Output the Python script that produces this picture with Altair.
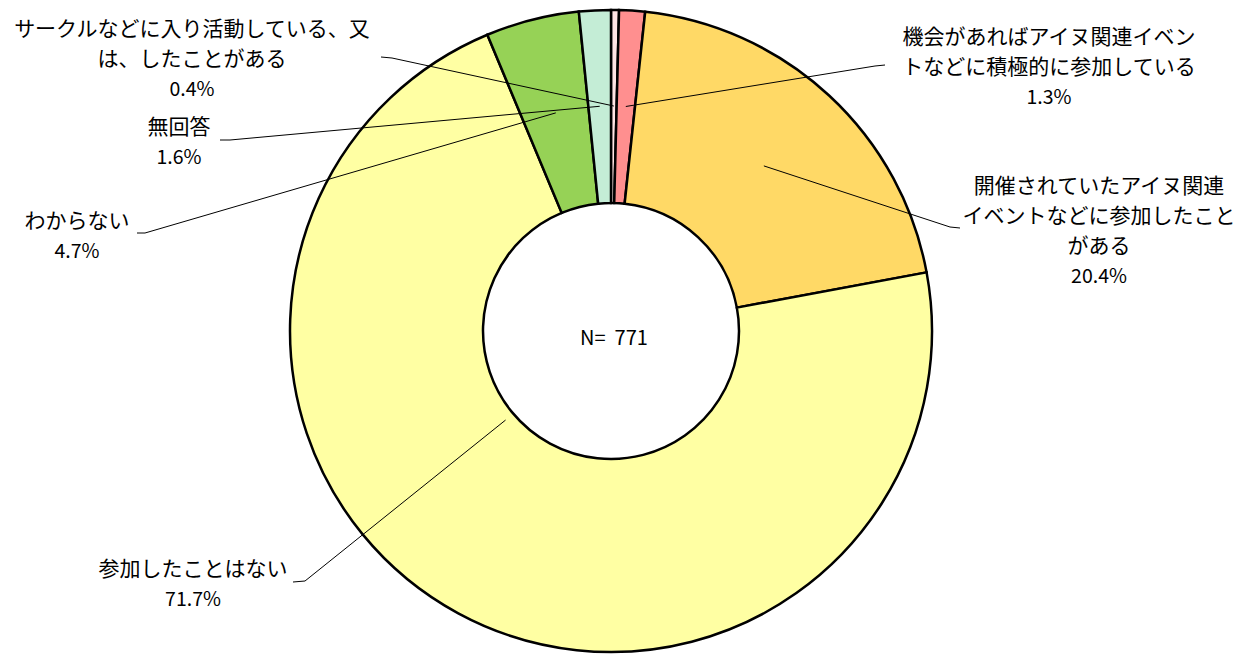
import math
import altair as alt
import pandas as pd

# ---------------- data ----------------
categories = [
    "サークルなどに入り活動している、又\nは、したことがある",
    "機会があればアイヌ関連イベン\nトなどに積極的に参加している",
    "開催されていたアイヌ関連\nイベントなどに参加したこと\nがある",
    "参加したことはない",
    "わからない",
    "無回答",
]
values = [0.4, 1.3, 20.4, 71.7, 4.7, 1.6]
pct_labels = ["0.4%", "1.3%", "20.4%", "71.7%", "4.7%", "1.6%"]
center_label = "N=\u00a0\u00a0771"

# ---------------- styles / layout ----------------
colors = ["#FFE4E4", "#FF8F8F", "#FFD966", "#FFFFA3", "#96D256", "#C4EDD6"]
W, H = 1246, 655
CX, CY = 611, 331
R_OUT, R_IN = 321, 128

label_x = [192, 1049, 1099, 193, 77, 179]
label_y = [30, 38, 187, 570, 222, 128]
line_h = 30
# leader line: start point near label, stub end
lead_start = [(381, 57), (885, 65), (960, 228), (293, 582), (137, 233), (220, 140)]
lead_stub = [(392, 58), (875, 66), (950, 227), (305, 581), (145, 233), (230, 140)]
target_r = [225, 225, 225, 138, 225, 225]
target_dang = [0, 0, 0, 21.4, 0, 0]

total = sum(values)

# arcs
arc_df = pd.DataFrame({
    "cat": categories,
    "value": values,
    "idx": list(range(len(values))),
})

# labels
txt_rows, pct_rows, lead_rows = [], [], []
cum = 0.0
for i, (c, v, p) in enumerate(zip(categories, values, pct_labels)):
    mid = (cum + v / 2) / total * 360 + target_dang[i]
    cum += v
    n_lines = c.count("\n") + 1
    txt_rows.append({"t": c, "lx": label_x[i], "ly": label_y[i]})
    pct_rows.append({"t": p, "lx": label_x[i], "ly": label_y[i] + line_h * n_lines})
    tx = CX + target_r[i] * math.sin(math.radians(mid))
    ty = CY - target_r[i] * math.cos(math.radians(mid))
    pts = [lead_start[i], lead_stub[i], (tx, ty)]
    for k, (px, py) in enumerate(pts):
        lead_rows.append({"id": i, "k": k, "lx": px, "ly": py})

txt_df = pd.DataFrame(txt_rows)
pct_df = pd.DataFrame(pct_rows)
lead_df = pd.DataFrame(lead_rows)
ctr_df = pd.DataFrame([{"t": center_label, "lx": CX + 3, "ly": CY + 8}])

xs = alt.Scale(domain=[0, W], range=[0, W])
ys = alt.Scale(domain=[0, H], range=[0, H])
FONT = "Noto Sans CJK JP"

arcs = alt.Chart(arc_df).mark_arc(
    radius=R_OUT, radius2=R_IN, stroke="black", strokeWidth=2.5
).encode(
    theta=alt.Theta("value:Q", stack=True),
    order=alt.Order("idx:Q"),
    color=alt.Color("cat:N", scale=alt.Scale(domain=categories, range=colors), legend=None),
    x=alt.value(CX),
    y=alt.value(CY),
)

leads = alt.Chart(lead_df).mark_line(color="black", strokeWidth=1).encode(
    x=alt.X("lx:Q", scale=xs, axis=None),
    y=alt.Y("ly:Q", scale=ys, axis=None),
    detail="id:N",
    order="k:Q",
)

txt = alt.Chart(txt_df).mark_text(
    font=FONT, fontSize=21, lineBreak="\n", lineHeight=line_h,
    align="center", baseline="middle", color="black",
).encode(
    x=alt.X("lx:Q", scale=xs, axis=None),
    y=alt.Y("ly:Q", scale=ys, axis=None),
    text="t:N",
)

pct = alt.Chart(pct_df).mark_text(
    font=FONT, fontSize=19.5, align="center", baseline="middle", color="black",
).encode(
    x=alt.X("lx:Q", scale=xs, axis=None),
    y=alt.Y("ly:Q", scale=ys, axis=None),
    text="t:N",
)

ctr = alt.Chart(ctr_df).mark_text(
    font=FONT, fontSize=20, align="center", baseline="middle", color="black",
).encode(
    x=alt.X("lx:Q", scale=xs, axis=None),
    y=alt.Y("ly:Q", scale=ys, axis=None),
    text="t:N",
)

chart = alt.layer(arcs, leads, txt, pct, ctr).properties(
    width=W, height=H, autosize="none", padding=0, background="white"
).configure_view(stroke=None)

chart.save("out.html", embed_options={"renderer": "svg", "actions": False})
